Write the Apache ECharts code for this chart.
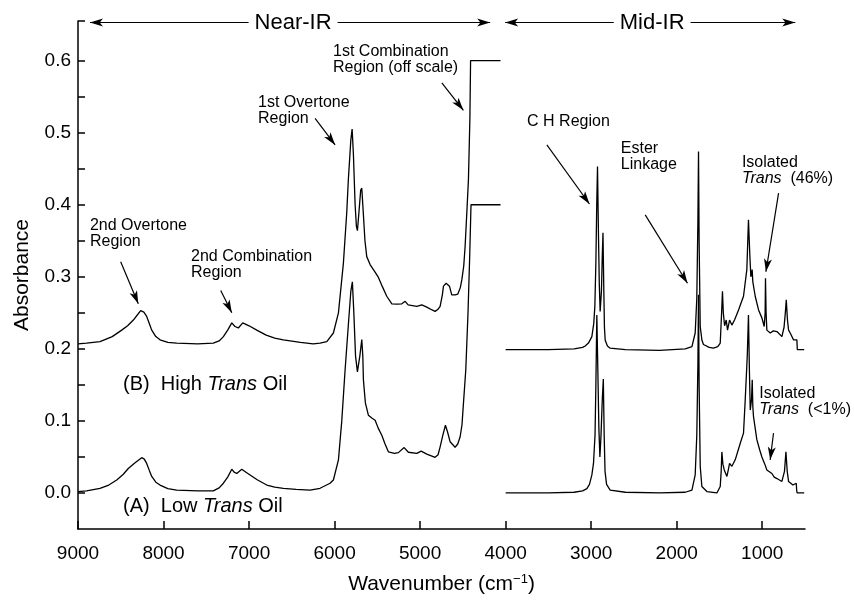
<!DOCTYPE html>
<html>
<head>
<meta charset="utf-8">
<script src="https://cdn.jsdelivr.net/npm/echarts@6.0.0/dist/echarts.min.js"></script>
<style>
  html, body { margin: 0; padding: 0; background: #fff; }
  #chart { width: 854px; height: 601px; }
</style>
</head>
<body>
<div id="chart"></div>
<script>
// [wavenumber cm-1, absorbance]
const highTransNear = [
  [9000, 0.207], [8900, 0.208], [8743, 0.21], [8600, 0.217], [8489, 0.226], [8420, 0.232],
  [8353, 0.24], [8300, 0.248], [8267, 0.253], [8230, 0.251], [8197, 0.245], [8160, 0.233],
  [8138, 0.226], [8090, 0.217], [8041, 0.2125], [7950, 0.209], [7846, 0.208], [7600, 0.207],
  [7418, 0.208], [7350, 0.211], [7300, 0.217], [7250, 0.226], [7202, 0.236], [7165, 0.231],
  [7125, 0.229], [7074, 0.236], [7000, 0.232], [6910, 0.226], [6800, 0.219], [6700, 0.215],
  [6599, 0.2125], [6400, 0.209], [6250, 0.207], [6170, 0.208], [6091, 0.21], [6014, 0.222],
  [5955, 0.25], [5897, 0.319], [5858, 0.389], [5839, 0.435], [5810, 0.49], [5795, 0.505],
  [5780, 0.47], [5760, 0.4], [5745, 0.37], [5733, 0.364], [5715, 0.39], [5695, 0.42],
  [5682, 0.423], [5665, 0.39], [5645, 0.35], [5624, 0.328], [5585, 0.317], [5540, 0.309],
  [5491, 0.3], [5440, 0.286], [5390, 0.273], [5331, 0.2625], [5270, 0.262], [5214, 0.2625],
  [5175, 0.266], [5140, 0.261], [5039, 0.259], [4980, 0.261], [4922, 0.258], [4860, 0.254],
  [4825, 0.252], [4790, 0.255], [4766, 0.259], [4740, 0.275], [4727, 0.287], [4696, 0.291],
  [4657, 0.287], [4630, 0.275], [4590, 0.275], [4559, 0.276], [4530, 0.285], [4512, 0.296],
  [4490, 0.315], [4474, 0.342], [4454, 0.389], [4435, 0.435], [4418, 0.52], [4410, 0.6],
  [4060, 0.6],
]
const lowTransNear = [
  [9000, 0.002], [8900, 0.003], [8743, 0.0065], [8640, 0.011], [8547, 0.018], [8470, 0.026],
  [8412, 0.034], [8333, 0.042], [8255, 0.049], [8225, 0.047], [8197, 0.041], [8165, 0.031],
  [8138, 0.023], [8090, 0.015], [8041, 0.011], [7950, 0.006], [7846, 0.004], [7600, 0.003],
  [7418, 0.003], [7350, 0.007], [7300, 0.0135], [7250, 0.022], [7202, 0.033], [7175, 0.029],
  [7144, 0.027], [7085, 0.033], [7040, 0.029], [6988, 0.025], [6900, 0.018], [6793, 0.011],
  [6700, 0.008], [6599, 0.0065], [6450, 0.005], [6287, 0.004], [6170, 0.0065], [6053, 0.0135],
  [6014, 0.018], [5955, 0.046], [5916, 0.1], [5877, 0.171], [5835, 0.24], [5810, 0.28],
  [5792, 0.293], [5775, 0.25], [5755, 0.19], [5733, 0.168], [5705, 0.19], [5682, 0.213],
  [5670, 0.19], [5663, 0.157], [5640, 0.125], [5605, 0.108], [5565, 0.104], [5526, 0.101],
  [5490, 0.09], [5448, 0.08], [5410, 0.068], [5370, 0.057], [5300, 0.055], [5254, 0.056],
  [5187, 0.063], [5137, 0.0565], [5039, 0.055], [4988, 0.058], [4922, 0.054], [4825, 0.0495],
  [4790, 0.053], [4766, 0.064], [4735, 0.08], [4704, 0.094], [4680, 0.085], [4649, 0.071],
  [4591, 0.0635], [4560, 0.068], [4532, 0.078], [4510, 0.095], [4493, 0.125], [4466, 0.171],
  [4440, 0.25], [4420, 0.33], [4405, 0.4], [4060, 0.4],
]
const highTransMid = [
  [4000, 0.199], [3500, 0.199], [3200, 0.2], [3100, 0.202], [3070, 0.204], [3032, 0.208],
  [2992, 0.217], [2970, 0.235], [2957, 0.259], [2945, 0.32], [2935, 0.4], [2926, 0.453],
  [2915, 0.36], [2905, 0.29], [2895, 0.252], [2880, 0.28], [2870, 0.33], [2862, 0.361],
  [2852, 0.28], [2845, 0.23], [2836, 0.212], [2810, 0.204], [2778, 0.201], [2600, 0.199],
  [2200, 0.198], [1900, 0.2], [1822, 0.203], [1784, 0.222], [1765, 0.27], [1752, 0.38],
  [1745, 0.474], [1738, 0.35], [1725, 0.231], [1705, 0.212], [1687, 0.206], [1620, 0.202],
  [1570, 0.201], [1520, 0.203], [1491, 0.208], [1475, 0.25], [1465, 0.28], [1455, 0.25],
  [1440, 0.232], [1421, 0.24], [1406, 0.226], [1382, 0.24], [1355, 0.233], [1324, 0.24],
  [1277, 0.254], [1219, 0.273], [1180, 0.31], [1161, 0.379], [1145, 0.33], [1133, 0.3],
  [1118, 0.31], [1110, 0.293], [1082, 0.273], [1043, 0.254], [1004, 0.243], [977, 0.231],
  [966, 0.25], [962, 0.298], [955, 0.25], [946, 0.226], [906, 0.222], [870, 0.225],
  [828, 0.224], [770, 0.217], [745, 0.23], [730, 0.25], [719, 0.268], [705, 0.24],
  [692, 0.226], [673, 0.222], [634, 0.2125], [595, 0.2125], [590, 0.199], [509, 0.199],
]
const lowTransMid = [
  [4000, 0.0], [3500, 0.0], [3200, 0.001], [3100, 0.003], [3050, 0.006], [3020, 0.012],
  [2992, 0.025], [2973, 0.041], [2955, 0.08], [2945, 0.15], [2934, 0.247], [2922, 0.17],
  [2910, 0.09], [2898, 0.05], [2885, 0.08], [2870, 0.13], [2858, 0.158], [2848, 0.08],
  [2838, 0.03], [2820, 0.012], [2778, 0.004], [2600, 0.001], [2200, 0.0], [1900, 0.001],
  [1822, 0.004], [1784, 0.025], [1765, 0.08], [1752, 0.18], [1745, 0.275], [1738, 0.15],
  [1725, 0.037], [1706, 0.009], [1647, 0.002], [1530, 0.0], [1491, 0.009], [1480, 0.03],
  [1472, 0.057], [1460, 0.04], [1444, 0.032], [1413, 0.023], [1395, 0.033], [1382, 0.041],
  [1355, 0.037], [1316, 0.046], [1257, 0.069], [1219, 0.083], [1199, 0.129], [1175, 0.19],
  [1161, 0.247], [1150, 0.17], [1140, 0.115], [1125, 0.13], [1117, 0.157], [1110, 0.12],
  [1102, 0.106], [1063, 0.074], [1030, 0.06], [1004, 0.05], [970, 0.04], [946, 0.032],
  [887, 0.027], [860, 0.022], [828, 0.02], [770, 0.016], [740, 0.03], [723, 0.057],
  [708, 0.03], [692, 0.016], [641, 0.011], [602, 0.0135], [597, 0.003], [590, 0.0], [509, 0.0],
]

const xTicks = [9000, 8000, 7000, 6000, 5000, 4000, 3000, 2000, 1000]
const yLabels = [0, 0.1, 0.2, 0.3, 0.4, 0.5, 0.6]
const yTicks = [0, 0.05, 0.1, 0.15, 0.2, 0.25, 0.3, 0.35, 0.4, 0.45, 0.5, 0.55, 0.6, 0.655]

// arrows [from, to] in data coordinates
const arrows = [
  [[8501, 0.321], [8295, 0.2625]],
  [[7331, 0.281], [7202, 0.25]],
  [[6228, 0.52], [5994, 0.483]],
  [[4746, 0.569], [4494, 0.531]],
  [[3518, 0.483], [3020, 0.401]],
  [[2368, 0.386], [1874, 0.291]],
  [[809, 0.416], [957, 0.307]],
  [[868, 0.083], [907, 0.046]],
]
const rangeArrows = [
  [[8860, 0.653], [4181, 0.653]],
  [[4006, 0.653], [614, 0.653]],
]

const FONT = '"Liberation Sans", Arial, Helvetica, sans-serif'

// annotation texts, anchored top-left in data coordinates
const notes = [
  { text: '2nd Overtone\nRegion', at: [8860, 0.382] },
  { text: '2nd Combination\nRegion', at: [7678, 0.339] },
  { text: '1st Overtone\nRegion', at: [6895, 0.553] },
  { text: '1st Combination\nRegion (off scale)', at: [6018, 0.624] },
  { text: 'C H Region', at: [3749, 0.526] },
  { text: 'Ester\nLinkage', at: [2653, 0.489] },
  { text: 'Isolated\n{i|Trans}  (46%)', at: [1238, 0.469] },
  { text: 'Isolated\n{i|Trans}  (<1%)', at: [1035, 0.149] },
]
const oilLabels = [
  { text: '(B)  High {i|Trans} Oil', at: [8474, 0.165] },
  { text: '(A)  Low {i|Trans} Oil', at: [8474, -0.005] },
]
const regionLabels = [
  { text: 'Near-IR', at: [6485, 0.653] },
  { text: 'Mid-IR', at: [2287, 0.653] },
]

const chart = echarts.init(document.getElementById('chart'))

const lineSeries = (data) => ({
  type: 'line',
  data,
  showSymbol: false,
  smooth: false,
  lineStyle: { color: '#000', width: 1.3 },
  silent: true,
})

chart.setOption({
  animation: false,
  grid: { left: 78, right: 49, top: 21, bottom: 72 },
  xAxis: {
    type: 'value',
    min: 500,
    max: 9000,
    inverse: true,
    name: 'Wavenumber (cm{sup|−1})',
    nameLocation: 'middle',
    nameGap: 44,
    nameTextStyle: {
      fontFamily: FONT, fontSize: 21, color: '#000',
      rich: { sup: { fontFamily: FONT, fontSize: 13, color: '#000', verticalAlign: 'top', lineHeight: 22 } },
    },
    axisLine: { onZero: false, lineStyle: { color: '#000', width: 1.5 } },
    axisTick: { inside: true, length: 8, customValues: xTicks, lineStyle: { color: '#000', width: 1.5 } },
    axisLabel: {
      customValues: xTicks, margin: 15, fontFamily: FONT, fontSize: 19, color: '#000',
      formatter: (v) => String(v),
    },
    splitLine: { show: false },
  },
  yAxis: {
    type: 'value',
    min: -0.05,
    max: 0.655,
    name: 'Absorbance',
    nameLocation: 'middle',
    nameGap: 45,
    nameTextStyle: { fontFamily: FONT, fontSize: 21, color: '#000' },
    axisLine: { show: true, onZero: false, lineStyle: { color: '#000', width: 1.5 } },
    axisTick: { inside: true, length: 7, customValues: yTicks, lineStyle: { color: '#000', width: 1.5 } },
    axisLabel: {
      customValues: yLabels, margin: 7, fontFamily: FONT, fontSize: 19, color: '#000',
      formatter: (v) => v.toFixed(1),
    },
    splitLine: { show: false },
  },
  series: [
    lineSeries(highTransNear),
    lineSeries(lowTransNear),
    lineSeries(highTransMid),
    lineSeries(lowTransMid),
    {
      type: 'line',
      data: [],
      silent: true,
      markLine: {
        silent: true,
        animation: false,
        symbol: ['none', 'arrow'],
        symbolSize: [6, 13],
        label: { show: false },
        lineStyle: { color: '#000', width: 1.2, type: 'solid' },
        emphasis: { disabled: true },
        data: arrows.map(([a, b]) => [{ coord: a }, { coord: b }]).concat(
          rangeArrows.map(([a, b]) => [{ coord: a, symbol: 'arrow' }, { coord: b, symbol: 'arrow' }])
        ),
      },
    },
  ],
})

const italic = { fontStyle: 'italic', fontFamily: FONT, fontSize: 16, color: '#000' }
const toPx = (p) => chart.convertToPixel({ gridIndex: 0 }, p)

const graphic = []
notes.forEach((n) => {
  const [x, y] = toPx(n.at)
  graphic.push({
    type: 'text', x, y, z: 100, silent: true,
    style: {
      text: n.text, fill: '#000', fontFamily: FONT, fontSize: 16, lineHeight: 16,
      rich: { i: { ...italic, lineHeight: 16 } },
    },
  })
})
oilLabels.forEach((n) => {
  const [x, y] = toPx(n.at)
  graphic.push({
    type: 'text', x, y, z: 100, silent: true,
    style: {
      text: n.text, fill: '#000', fontFamily: FONT, fontSize: 20,
      rich: { i: { ...italic, fontSize: 20 } },
    },
  })
})
regionLabels.forEach((n) => {
  const [x, y] = toPx(n.at)
  graphic.push({
    type: 'text', x, y, z: 100, silent: true,
    style: {
      text: n.text, fill: '#000', fontFamily: FONT, fontSize: 22,
      align: 'center', verticalAlign: 'middle', backgroundColor: '#fff', padding: [0, 6],
    },
  })
})
chart.setOption({ graphic })
</script>
</body>
</html>
